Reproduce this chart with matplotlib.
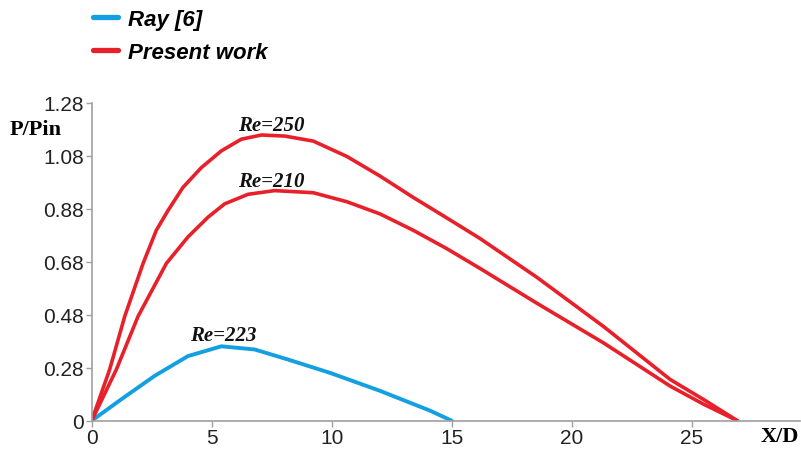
import numpy as np
import matplotlib.pyplot as plt

x_re250 = [0, 0.75, 1.375, 2.14, 2.69, 3.18, 3.80, 4.57, 5.40, 6.23, 7.07, 8.04, 9.23,
           10.63, 12.01, 13.4, 14.79, 16.18, 18.54, 21.32, 24.1, 25.48, 26.9]
p_re250 = [0, 0.272, 0.474, 0.674, 0.799, 0.874, 0.961, 1.036, 1.099, 1.143, 1.159, 1.155, 1.136,
           1.078, 1.004, 0.923, 0.846, 0.768, 0.622, 0.436, 0.218, 0.113, 0]

x_re210 = [0, 1.03, 1.93, 3.11, 4.01, 4.85, 5.54, 6.51, 7.62, 9.23, 10.63, 12.01, 13.4,
           14.79, 16.18, 18.54, 21.32, 24.1, 25.48, 26.9]
p_re210 = [0, 0.272, 0.474, 0.674, 0.774, 0.849, 0.899, 0.935, 0.949, 0.941, 0.907, 0.861, 0.799,
           0.73, 0.655, 0.524, 0.374, 0.183, 0.088, 0]

x_ray = [0, 1.23, 2.62, 4.01, 5.40, 6.79, 8.18, 9.93, 12.01, 14.1, 15.0]
p_ray = [0, 0.113, 0.237, 0.324, 0.361, 0.349, 0.311, 0.253, 0.158, 0.053, 0]

yticks = [0, 0.28, 0.48, 0.68, 0.88, 1.08, 1.28]
xticks = [0, 5, 10, 15, 20, 25]

BLUE = '#14a0e0'
RED = '#e8202a'

# the y axis is evenly spaced between 0 and 0.28 and above, so squeeze the first gap
knots_v = [-10, 0, 0.28, 10]
knots_p = [-10 * 0.2 / 0.28, 0, 0.2, 9.92]
def fwd(v):
    return np.interp(v, knots_v, knots_p)
def inv(p):
    return np.interp(p, knots_p, knots_v)

fig = plt.figure(figsize=(8.01, 4.52), dpi=100)
ax = fig.add_axes([0.1145, 0.067, 0.884, 0.703])
ax.set_yscale('function', functions=(fwd, inv))

ax.plot(x_ray, p_ray, color=BLUE, lw=2.8, solid_capstyle='round', solid_joinstyle='round',
        label='Ray [6]')
ax.plot(x_re250, p_re250, color=RED, lw=2.6, solid_capstyle='round', solid_joinstyle='round',
        label='Present work')
ax.plot(x_re210, p_re210, color=RED, lw=2.6, solid_capstyle='round', solid_joinstyle='round')

ax.set_xlim(0, 29.5)
ax.set_ylim(0, 1.28)
ax.set_xticks(xticks)
ax.set_yticks(yticks)
ax.set_yticklabels([f'{t:g}' for t in yticks])

for s in ['top', 'right']:
    ax.spines[s].set_visible(False)
for s in ['left', 'bottom']:
    ax.spines[s].set_color('#a0a0a0')
    ax.spines[s].set_linewidth(1.2)
ax.tick_params(colors='#a0a0a0', labelcolor='#222222', length=4, width=1,
               labelsize=15, pad=1.5)
for lab in ax.get_xticklabels() + ax.get_yticklabels():
    lab.set_family('Liberation Sans')

curve_font = dict(family='Liberation Serif', style='italic', weight='bold', fontsize=15,
                  ha='center', va='center', color='#111111')
ax.text(7.5, 1.195, 'Re=250', **curve_font)
ax.text(7.5, 0.985, 'Re=210', **curve_font)
ax.text(5.5, 0.405, 'Re=223', **curve_font)

fig.text(0.012, 0.712, 'P/Pin', family='Liberation Serif', weight='bold', fontsize=16,
         ha='left', va='center')
fig.text(0.974, 0.033, 'X/D', family='Liberation Serif', weight='bold', fontsize=16,
         ha='center', va='center')

leg = fig.legend(loc='upper left', bbox_to_anchor=(0.116, 0.978), frameon=False,
                 borderpad=0, borderaxespad=0,
                 handlelength=1.15, handletextpad=0.45, labelspacing=0.55,
                 prop=dict(family='Liberation Sans', style='italic', weight='bold', size=16))
for h in leg.legend_handles:
    h.set_linewidth(3.8)

fig.savefig('out.png', dpi=100)
